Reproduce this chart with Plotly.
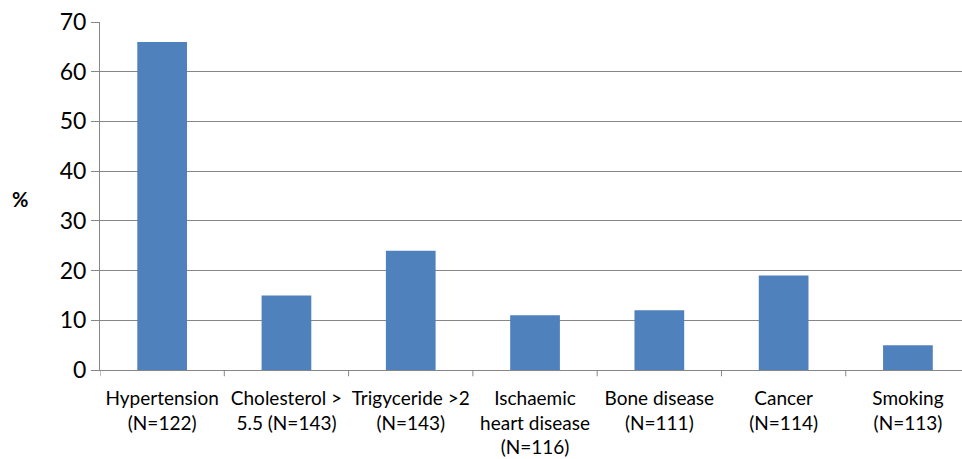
import plotly.graph_objects as go

categories = [
    "Hypertension<br>(N=122)",
    "Cholesterol ><br>5.5 (N=143)",
    "Trigyceride >2<br>(N=143)",
    "Ischaemic<br>heart disease<br>(N=116)",
    "Bone disease<br>(N=111)",
    "Cancer<br>(N=114)",
    "Smoking<br>(N=113)",
]
percent = [66, 15, 24, 11, 12, 19, 5]
y_ticks = [0, 10, 20, 30, 40, 50, 60, 70]

BAR = "#4f81bd"
GRID = "#868686"
FONT = "Lato, 'Open Sans', sans-serif"

fig = go.Figure(
    go.Bar(
        x=list(range(len(categories))),
        y=percent,
        marker=dict(color=BAR, line=dict(width=0)),
        width=0.4,
    )
)

fig.update_layout(
    width=962,
    height=459,
    margin=dict(l=100, r=0, t=22, b=89),
    paper_bgcolor="white",
    plot_bgcolor="white",
    showlegend=False,
    font=dict(family=FONT, color="#000000"),
    xaxis=dict(
        tickmode="array",
        tickvals=list(range(len(categories))),
        ticktext=categories,
        range=[-0.5, 6.435],
        showline=True,
        linecolor=GRID,
        linewidth=1,
        showgrid=False,
        zeroline=False,
        # invisible ticks only push the labels down from the axis
        ticks="outside",
        ticklen=11,
        tickcolor="rgba(0,0,0,0)",
        tickfont=dict(size=19, family=FONT),
    ),
    yaxis=dict(
        range=[0, 70],
        tickmode="array",
        tickvals=y_ticks,
        showline=True,
        linecolor=GRID,
        linewidth=1,
        showgrid=True,
        gridcolor=GRID,
        gridwidth=1,
        zeroline=False,
        ticks="outside",
        ticklen=8,
        tickcolor=GRID,
        tickfont=dict(size=23, family=FONT),
    ),
    annotations=[
        dict(
            text="<b>%</b>",
            xref="paper",
            yref="paper",
            x=0,
            y=0.5,
            xshift=-90,
            yshift=-3,
            showarrow=False,
            font=dict(size=20, family=FONT),
        )
    ],
)

# ticks between categories, like a category axis with boundary ticks
for b in [i - 0.5 for i in range(len(categories) + 1)]:
    fig.add_shape(
        type="line",
        xref="x",
        yref="paper",
        x0=b,
        x1=b,
        y0=0,
        y1=-0.018,
        line=dict(color=GRID, width=1),
    )

fig.write_html("out.html")
